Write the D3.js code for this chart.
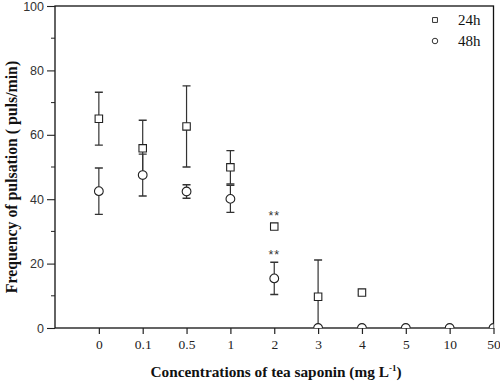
<!DOCTYPE html>
<html><head><meta charset="utf-8">
<script src="https://cdn.jsdelivr.net/npm/d3@7"></script>
<style>body{margin:0;background:#fff}svg{display:block}</style>
</head><body>
<svg id="c" width="500" height="382"></svg>
<script>
const categories = ["0","0.1","0.5","1","2","3","4","5","10","50"];
const h24 = [65, 55.8, 62.6, 49.9, 31.5, 9.7, 11, null, null, null];
const h24err = [8.2, 8.7, 12.6, 5.2, 0, 11.4, 0.5, null, null, null];
const h48 = [42.5, 47.5, 42.4, 40.1, 15.4, 0, 0, 0, 0, 0];
const h48err = [7.2, 6.5, 2.1, 4.2, 5, 0, 0, 0, 0, 0];
const signif24 = ["", "", "", "", "**", "", "", "", "", ""];
const signif48 = ["", "", "", "", "**", "", "", "", "", ""];
const yTicks = [0, 20, 40, 60, 80, 100];
const yMinor = [10, 30, 50, 70, 90];

const svg = d3.select("#c");
const L = 55, R = 493.5, T = 6, B = 328;
const x = d3.scaleLinear().domain([-1, categories.length - 1]).range([L, R]);
const y = d3.scaleLinear().domain([0, 100]).range([B, T]);

svg.append("defs").append("clipPath").attr("id", "clip")
  .append("rect").attr("x", L).attr("y", T).attr("width", R - L).attr("height", B - T);

// frame
svg.append("rect").attr("x", L).attr("y", T).attr("width", R - L).attr("height", B - T)
  .attr("fill", "none").attr("stroke", "#111").attr("stroke-width", 1.3);

// y axis
const ya = svg.append("g").attr("transform", `translate(${L},0)`)
  .call(d3.axisLeft(y).tickValues(yTicks).tickSize(8).tickPadding(3).tickFormat(d3.format("d")));
ya.select(".domain").remove();
ya.selectAll("line").attr("stroke", "#222").attr("stroke-width", 1.1);
ya.selectAll("text").attr("font-family", "Liberation Sans, Arial, sans-serif").attr("font-size", 12.5).attr("fill", "#333");
svg.append("g").selectAll("line").data(yMinor).join("line")
  .attr("x1", L - 4).attr("x2", L).attr("y1", d => y(d)).attr("y2", d => y(d))
  .attr("stroke", "#222").attr("stroke-width", 1);

// x axis
const xa = svg.append("g").attr("transform", `translate(0,${B})`)
  .call(d3.axisBottom(x).tickValues(d3.range(categories.length)).tickSize(6).tickPadding(5)
    .tickFormat(i => categories[i]));
xa.select(".domain").remove();
xa.selectAll("line").attr("stroke", "#222").attr("stroke-width", 1.2);
xa.selectAll("text").attr("font-family", "Liberation Serif, Times New Roman, serif").attr("font-size", 13.5).attr("fill", "#222");

const plot = svg.append("g").attr("clip-path", "url(#clip)");

function drawSeries(vals, errs, shape) {
  const data = vals.map((v, i) => ({i, v, e: errs[i]})).filter(d => d.v !== null);
  const eb = data.filter(d => d.e > 0);
  plot.append("g").selectAll("line").data(eb).join("line")
    .attr("x1", d => x(d.i)).attr("x2", d => x(d.i))
    .attr("y1", d => y(d.v + d.e)).attr("y2", d => y(d.v - d.e))
    .attr("stroke", "#333").attr("stroke-width", 1.2);
  ["+", "-"].forEach(s => {
    plot.append("g").selectAll("line").data(eb).join("line")
      .attr("x1", d => x(d.i) - 4).attr("x2", d => x(d.i) + 4)
      .attr("y1", d => y(s === "+" ? d.v + d.e : d.v - d.e))
      .attr("y2", d => y(s === "+" ? d.v + d.e : d.v - d.e))
      .attr("stroke", "#333").attr("stroke-width", 1.4);
  });
  const sym = d3.symbol().type(shape === "sq" ? d3.symbolSquare : d3.symbolCircle).size(shape === "sq" ? 56 : 60);
  plot.append("g").selectAll("path").data(data).join("path")
    .attr("transform", d => `translate(${x(d.i)},${y(d.v)})`)
    .attr("d", sym).attr("fill", "#fff").attr("stroke", "#222").attr("stroke-width", 1.1);
}
drawSeries(h24, h24err, "sq");
drawSeries(h48, h48err, "ci");

// significance marks
function stars(vals, errs, marks) {
  svg.append("g").selectAll("text").data(marks.map((m, i) => ({m, i})).filter(d => d.m))
    .join("text")
    .attr("x", d => x(d.i))
    .attr("y", d => Math.min(y(vals[d.i] + (errs[d.i] || 0)), y(vals[d.i]) - 4) - 3)
    .attr("text-anchor", "middle").attr("font-family", "Liberation Sans, Arial, sans-serif")
    .attr("font-size", 12.5).attr("fill", "#333").attr("letter-spacing", 1).text(d => d.m);
}
stars(h24, h24err, signif24);
stars(h48, h48err, signif48);

// legend
const leg = svg.append("g");
const series = [{n: "24h", t: d3.symbolSquare}, {n: "48h", t: d3.symbolCircle}];
series.forEach((s, k) => {
  const yy = 20 + k * 21;
  leg.append("path").attr("transform", `translate(435,${yy})`)
    .attr("d", d3.symbol().type(s.t).size(24)).attr("fill", "#fff").attr("stroke", "#333").attr("stroke-width", 1);
  leg.append("text").attr("x", 458).attr("y", yy + 5).attr("font-family", "Liberation Serif, Times New Roman, serif")
    .attr("font-size", 15).attr("fill", "#111").text(s.n);
});

// axis titles
const xt = svg.append("text").attr("x", 276).attr("y", 377).attr("text-anchor", "middle")
  .attr("font-family", "Liberation Serif, Times New Roman, serif").attr("font-weight", "bold")
  .attr("font-size", 15.3).attr("fill", "#111");
xt.append("tspan").text("Concentrations of tea saponin (mg L");
xt.append("tspan").attr("dy", -6).attr("font-size", 9).text("-1");
xt.append("tspan").attr("dy", 6).text(")");

svg.append("text").attr("transform", "translate(17,177) rotate(-90)").attr("text-anchor", "middle")
  .attr("font-family", "Liberation Serif, Times New Roman, serif").attr("font-weight", "bold")
  .attr("font-size", 15.8).attr("fill", "#111").text("Frequency of pulsation ( puls/min)");
</script>
</body></html>
